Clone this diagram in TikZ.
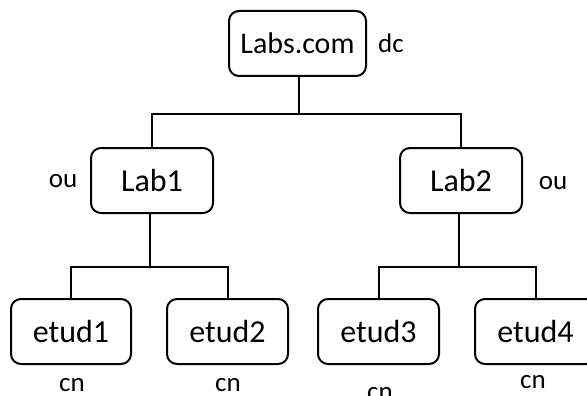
\documentclass[tikz,border=0pt]{standalone}
\usepackage{fontspec}
\setmainfont{Carlito}
\begin{document}
\begin{tikzpicture}[x=1pt,y=-1pt,
  entry/.style={draw, line width=2pt, rounded corners=10pt, inner sep=0pt,
    minimum height=65pt, font=\fontsize{32}{36}\selectfont},
  tag/.style={anchor=base, inner sep=0pt, font=\fontsize{27}{30}\selectfont},
  link/.style={line width=2pt}]
\useasboundingbox (0,0) rectangle (587,396);

% directory entries
\node[entry, minimum width=137pt, font=\fontsize{30}{34}\selectfont] (top) at (297.5,43.5) {Labs.com};
\node[entry, minimum width=122pt] (lab1) at (152,180.5) {Lab1};
\node[entry, minimum width=122pt] (lab2) at (461,180.5) {Lab2};
\node[entry, minimum width=120pt] (e1) at (71,331.5) {etud1};
\node[entry, minimum width=121pt] (e2) at (227.5,331.5) {etud2};
\node[entry, minimum width=121pt] (e3) at (378.5,331.5) {etud3};
\node[entry, minimum width=121pt] (e4) at (535.5,331.5) {etud4};

% attribute types
\node[tag] (tdc) at (391,53) {dc};
\node[tag] (tou1) at (63,187) {ou};
\node[tag] (tou2) at (553,189) {ou};
\node[tag] (tcn1) at (72,391) {cn};
\node[tag] (tcn2) at (228,391) {cn};
\node[tag] (tcn3) at (380,400) {cn};
\node[tag] (tcn4) at (533,388) {cn};

% junction heights
\coordinate (j0) at (0,114);
\coordinate (j1) at (0,267);
\coordinate (d0) at ([xshift=1.5pt]top.south);
\coordinate (d1) at ([xshift=-2pt]lab1.south);
\coordinate (d2) at ([xshift=-2pt]lab2.south);

% tree connectors
\draw[link] (d0) -- (d0 |- j0);
\draw[link] (lab1.north) |- (lab2.north |- j0) -- (lab2.north);
\draw[link] (d1) -- (d1 |- j1);
\draw[link] (e1.north) |- (e2.north |- j1) -- (e2.north);
\draw[link] (d2) -- (d2 |- j1);
\draw[link] (e3.north) |- (e4.north |- j1) -- (e4.north);
\end{tikzpicture}
\end{document}
